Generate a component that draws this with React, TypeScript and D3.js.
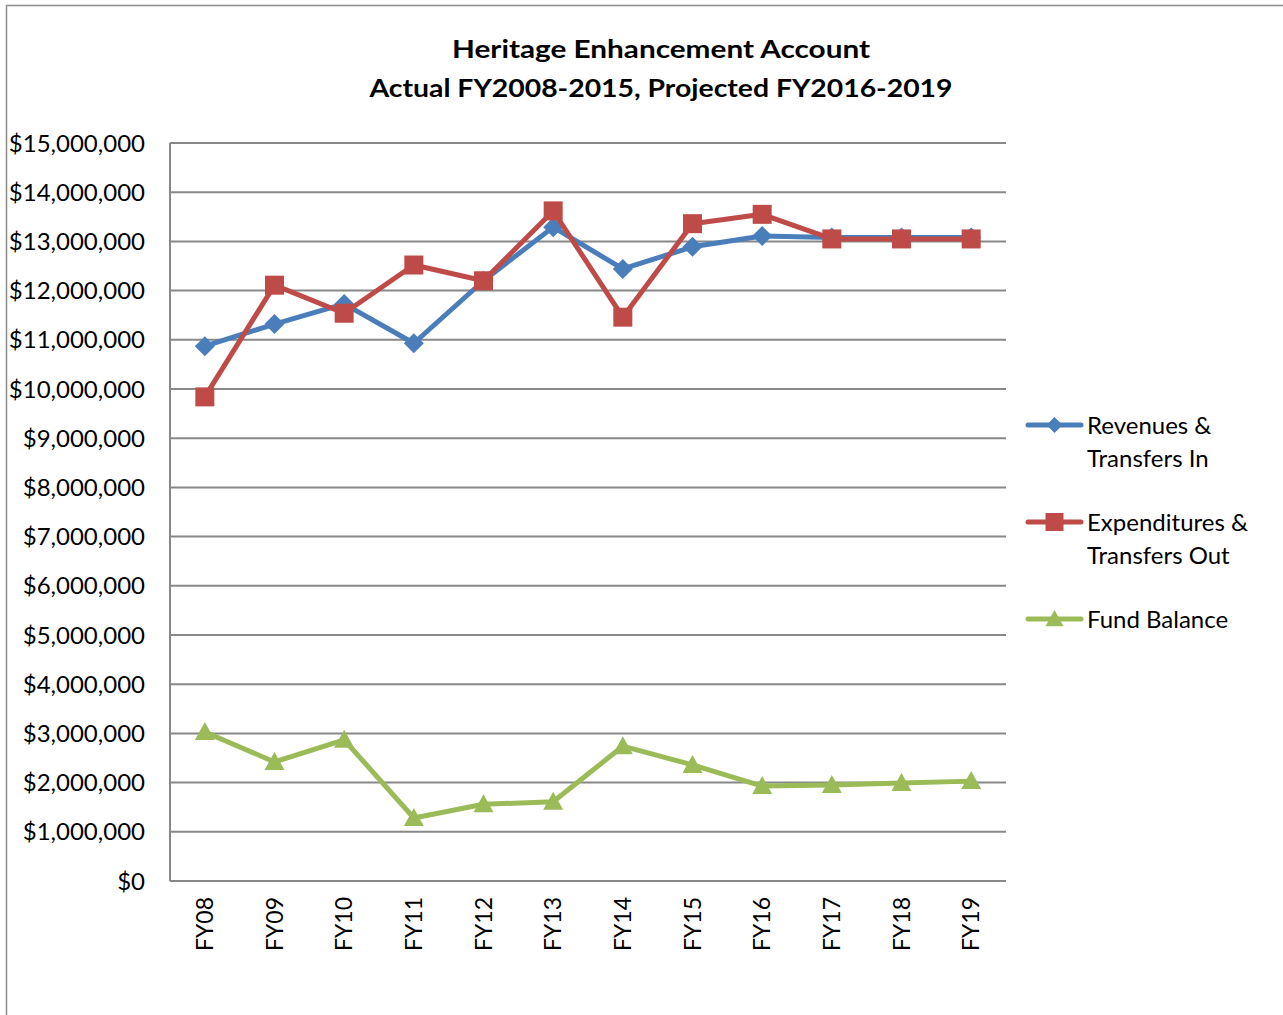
import React from "react";
import * as d3 from "d3";

const categories = ["FY08", "FY09", "FY10", "FY11", "FY12", "FY13", "FY14", "FY15", "FY16", "FY17", "FY18", "FY19"];
const revenues = [10.87, 11.32, 11.73, 10.93, 12.2, 13.29, 12.44, 12.89, 13.11, 13.08, 13.08, 13.08].map((v) => v * 1e6);
const expenditures = [9.84, 12.11, 11.54, 12.52, 12.2, 13.62, 11.46, 13.36, 13.55, 13.05, 13.05, 13.05].map((v) => v * 1e6);
const fundBalance = [3.03, 2.42, 2.87, 1.28, 1.56, 1.61, 2.74, 2.36, 1.93, 1.95, 1.99, 2.03].map((v) => v * 1e6);
const yTicks = [0, 1, 2, 3, 4, 5, 6, 7, 8, 9, 10, 11, 12, 13, 14, 15].map((v) => v * 1e6);
const titleLines = ["Heritage Enhancement Account", "Actual FY2008-2015, Projected FY2016-2019"];

const W = 1283;
const H = 1015;
const FONT = "Lato, 'Open Sans', sans-serif";

const series = [
  { name: ["Revenues &", "Transfers In"], values: revenues, color: "#4A7EBB", marker: "diamond" },
  { name: ["Expenditures &", "Transfers Out"], values: expenditures, color: "#BE4B48", marker: "square" },
  { name: ["Fund Balance"], values: fundBalance, color: "#9BBB59", marker: "triangle" },
];

function markerPath(kind: string, cx: number, cy: number, s: number) {
  if (kind === "diamond") {
    const r = s / 2;
    return `M${cx},${cy - r}L${cx + r},${cy}L${cx},${cy + r}L${cx - r},${cy}Z`;
  }
  if (kind === "square") {
    const r = s / 2;
    return `M${cx - r},${cy - r}H${cx + r}V${cy + r}H${cx - r}Z`;
  }
  const r = s / 2;
  return `M${cx},${cy - r}L${cx + r},${cy + r * 0.8}L${cx - r},${cy + r * 0.8}Z`;
}

export default function App() {
  const left = 170, right = 1006, top = 143, bottom = 881;
  const x = d3.scalePoint<string>().domain(categories).range([left, right]).padding(0.5);
  const y = d3.scaleLinear().domain([0, 15e6]).range([bottom, top]);
  const fmt = (v: number) => "$" + d3.format(",")(v);
  const line = d3
    .line<number>()
    .x((_, i) => x(categories[i]) as number)
    .y((d) => y(d));

  const legendY = [425, 522, 619];

  return (
    <div style={{ position: "absolute", left: 0, top: 0, width: W, height: H, background: "#fff" }}>
      <svg width={W} height={H} style={{ display: "block" }} fontFamily={FONT}>
        <rect x={0} y={0} width={W} height={H} fill="#fff" />
        <path d={`M6.5,${H + 2}V5.5H${W + 2}`} fill="none" stroke="#8c8c8c" strokeWidth={1.5} />
        <text x={661} y={58} textAnchor="middle" fontSize={25} fontWeight={700} fill="#000" textLength={418} lengthAdjust="spacingAndGlyphs">
          {titleLines[0]}
        </text>
        <text x={661} y={97} textAnchor="middle" fontSize={25} fontWeight={700} fill="#000" textLength={583} lengthAdjust="spacingAndGlyphs">
          {titleLines[1]}
        </text>
        {yTicks.map((t) => (
          <g key={t}>
            <line x1={left} x2={right} y1={y(t)} y2={y(t)} stroke="#888" strokeWidth={2} />
            <text x={145} y={y(t)} dy="0.36em" textAnchor="end" fontSize={24} fill="#000">
              {fmt(t)}
            </text>
          </g>
        ))}
        <line x1={left} x2={left} y1={top} y2={bottom} stroke="#888" strokeWidth={2} />
        {categories.map((c) => (
          <text
            key={c}
            transform={`translate(${(x(c) as number) + 8},897) rotate(-90)`}
            textAnchor="end"
            fontSize={23}
            fill="#000"
          >
            {c}
          </text>
        ))}
        {series.map((s) => (
          <g key={s.name[0]}>
            <path d={line(s.values) || ""} fill="none" stroke={s.color} strokeWidth={5} strokeLinejoin="round" />
            {s.values.map((v, i) => (
              <path key={i} d={markerPath(s.marker, x(categories[i]) as number, y(v), s.marker === "diamond" ? 20 : s.marker === "square" ? 19 : 20)} fill={s.color} />
            ))}
          </g>
        ))}
        {series.map((s, k) => (
          <g key={"leg" + k}>
            <line x1={1028} x2={1081} y1={legendY[k]} y2={legendY[k]} stroke={s.color} strokeWidth={5} strokeLinecap="round" />
            <path d={markerPath(s.marker, 1054.5, legendY[k], s.marker === "diamond" ? 16 : s.marker === "square" ? 18 : 18)} fill={s.color} />
            {s.name.map((n, j) => (
              <text key={j} x={1087} y={legendY[k] + j * 33} dy="0.36em" fontSize={24} fill="#000">
                {n}
              </text>
            ))}
          </g>
        ))}
      </svg>
    </div>
  );
}
